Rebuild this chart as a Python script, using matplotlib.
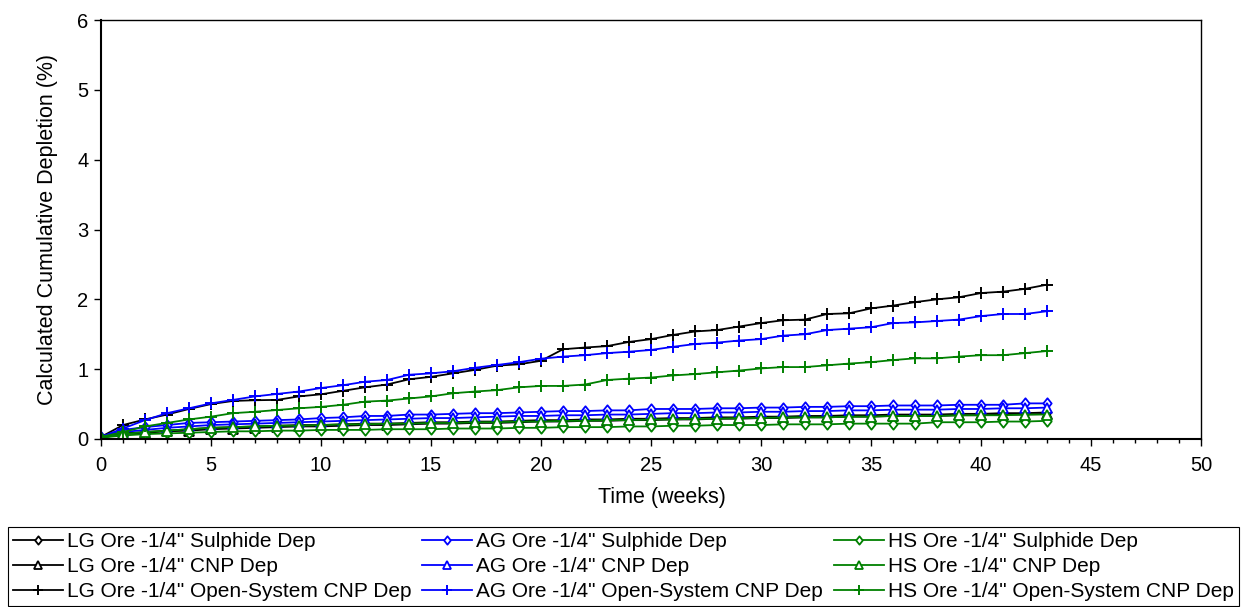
import matplotlib
matplotlib.use("Agg")
import matplotlib.pyplot as plt
import numpy as np
from matplotlib.ticker import MultipleLocator
from matplotlib.path import Path

plt.rcParams['font.family'] = ['Liberation Sans', 'DejaVu Sans']

weeks = list(range(0, 44))

lg_sulphide = [0.02, 0.08, 0.10, 0.12, 0.14, 0.16, 0.17, 0.18, 0.19, 0.20, 0.20, 0.21, 0.22, 0.22, 0.23,
               0.24, 0.24, 0.25, 0.25, 0.26, 0.27, 0.27, 0.28, 0.28, 0.29, 0.29, 0.30, 0.30, 0.31, 0.31,
               0.32, 0.32, 0.33, 0.33, 0.34, 0.34, 0.35, 0.35, 0.35, 0.36, 0.36, 0.37, 0.37, 0.38]
lg_cnp = [0.02, 0.07, 0.09, 0.11, 0.12, 0.14, 0.15, 0.16, 0.17, 0.18, 0.18, 0.19, 0.20, 0.20, 0.21,
          0.22, 0.22, 0.23, 0.23, 0.24, 0.25, 0.25, 0.26, 0.26, 0.27, 0.27, 0.28, 0.28, 0.29, 0.29,
          0.30, 0.30, 0.31, 0.31, 0.32, 0.32, 0.33, 0.33, 0.33, 0.34, 0.34, 0.35, 0.35, 0.36]
lg_open = [0.03, 0.20, 0.28, 0.35, 0.43, 0.50, 0.545, 0.555, 0.56, 0.61, 0.64, 0.69, 0.74, 0.78, 0.855,
           0.89, 0.94, 0.99, 1.05, 1.07, 1.12, 1.285, 1.31, 1.33, 1.39, 1.43, 1.49, 1.54, 1.56, 1.61,
           1.66, 1.70, 1.71, 1.79, 1.80, 1.87, 1.91, 1.96, 2.00, 2.03, 2.09, 2.11, 2.15, 2.21]

ag_sulphide = [0.03, 0.13, 0.17, 0.20, 0.23, 0.24, 0.25, 0.26, 0.27, 0.28, 0.30, 0.31, 0.33, 0.33, 0.35,
               0.35, 0.36, 0.37, 0.37, 0.38, 0.39, 0.40, 0.40, 0.41, 0.41, 0.43, 0.43, 0.43, 0.44, 0.44,
               0.45, 0.45, 0.46, 0.46, 0.47, 0.47, 0.48, 0.48, 0.48, 0.49, 0.49, 0.49, 0.51, 0.51]
ag_cnp = [0.03, 0.10, 0.13, 0.16, 0.18, 0.20, 0.21, 0.22, 0.23, 0.24, 0.25, 0.26, 0.27, 0.28, 0.29,
          0.30, 0.30, 0.31, 0.32, 0.33, 0.33, 0.34, 0.34, 0.35, 0.35, 0.36, 0.37, 0.37, 0.38, 0.38,
          0.39, 0.39, 0.40, 0.40, 0.41, 0.41, 0.42, 0.42, 0.42, 0.43, 0.43, 0.44, 0.44, 0.45]
ag_open = [0.03, 0.15, 0.27, 0.37, 0.44, 0.51, 0.56, 0.61, 0.645, 0.68, 0.73, 0.77, 0.82, 0.845, 0.92,
           0.94, 0.97, 1.02, 1.06, 1.10, 1.15, 1.18, 1.20, 1.23, 1.25, 1.275, 1.32, 1.36, 1.38, 1.41,
           1.43, 1.48, 1.50, 1.56, 1.58, 1.60, 1.66, 1.67, 1.69, 1.71, 1.76, 1.79, 1.79, 1.83]

hs_sulphide = [0.02, 0.05, 0.07, 0.08, 0.09, 0.10, 0.11, 0.11, 0.12, 0.12, 0.13, 0.13, 0.13, 0.14, 0.14,
               0.14, 0.15, 0.15, 0.15, 0.16, 0.16, 0.17, 0.17, 0.17, 0.18, 0.18, 0.19, 0.19, 0.20, 0.20,
               0.20, 0.21, 0.21, 0.21, 0.22, 0.22, 0.22, 0.22, 0.24, 0.24, 0.24, 0.25, 0.25, 0.26]
hs_cnp = [0.02, 0.07, 0.10, 0.12, 0.14, 0.16, 0.17, 0.18, 0.19, 0.19, 0.20, 0.21, 0.21, 0.22, 0.22,
          0.23, 0.23, 0.24, 0.24, 0.25, 0.25, 0.26, 0.26, 0.27, 0.27, 0.28, 0.28, 0.29, 0.29, 0.30,
          0.30, 0.31, 0.31, 0.31, 0.32, 0.32, 0.33, 0.33, 0.33, 0.34, 0.34, 0.34, 0.35, 0.35]
hs_open = [0.03, 0.10, 0.18, 0.23, 0.28, 0.32, 0.37, 0.39, 0.415, 0.44, 0.46, 0.49, 0.535, 0.55, 0.58,
           0.61, 0.655, 0.68, 0.70, 0.74, 0.76, 0.76, 0.78, 0.845, 0.865, 0.88, 0.91, 0.93, 0.955, 0.98,
           1.01, 1.03, 1.03, 1.055, 1.08, 1.10, 1.13, 1.155, 1.155, 1.18, 1.20, 1.20, 1.23, 1.26]

labels = ['LG Ore -1/4" Sulphide Dep', 'LG Ore -1/4" CNP Dep', 'LG Ore -1/4" Open-System CNP Dep',
          'AG Ore -1/4" Sulphide Dep', 'AG Ore -1/4" CNP Dep', 'AG Ore -1/4" Open-System CNP Dep',
          'HS Ore -1/4" Sulphide Dep', 'HS Ore -1/4" CNP Dep', 'HS Ore -1/4" Open-System CNP Dep']
series = [lg_sulphide, lg_cnp, lg_open, ag_sulphide, ag_cnp, ag_open, hs_sulphide, hs_cnp, hs_open]
colors = ['#000000'] * 3 + ['#0000FF'] * 3 + ['#008000'] * 3
markers = ['d', '^', '+'] * 3

diamond = Path([(0, 1), (0.8, 0), (0, -1), (-0.8, 0), (0, 1)],
               [Path.MOVETO, Path.LINETO, Path.LINETO, Path.LINETO, Path.CLOSEPOLY])

fig = plt.figure(figsize=(12.42, 6.07), dpi=100)
ax = fig.add_axes([101 / 1242, 1 - 439 / 607, 1100 / 1242, 419 / 607])

for vals, lab, c, m in zip(series, labels, colors, markers):
    if m == '+':
        ax.plot(weeks, vals, color=c, lw=1.3, marker='+', markersize=8.5, markeredgewidth=1.4, label=lab)
    elif m == 'd':
        ax.plot(weeks, vals, color=c, lw=1.3, marker=diamond, markersize=7.5, markerfacecolor='white',
                markeredgecolor=c, markeredgewidth=1.3, label=lab)
    else:
        ax.plot(weeks, vals, color=c, lw=1.3, marker='^', markersize=6.5, markerfacecolor='white',
                markeredgecolor=c, markeredgewidth=1.3, label=lab)

ax.set_xlim(0, 50)
ax.set_ylim(0, 6)
ax.xaxis.set_major_locator(MultipleLocator(5))
ax.xaxis.set_minor_locator(MultipleLocator(1))
ax.yaxis.set_major_locator(MultipleLocator(1))
ax.tick_params(axis='both', which='major', direction='out', length=5, width=1, labelsize=14.5)
ax.tick_params(axis='x', which='major', pad=7)
ax.tick_params(axis='y', which='major', pad=4)
ax.tick_params(axis='x', which='minor', direction='out', length=3, width=1)
for s in ['left', 'bottom']:
    ax.spines[s].set_linewidth(1.5)
for s in ['top', 'right']:
    ax.spines[s].set_linewidth(1.0)

ax.set_xlabel('Time (weeks)', fontsize=15.5, labelpad=9)
ax.xaxis.label.set_x((662 - 101) / 1100)
ax.set_ylabel('Calculated Cumulative Depletion (%)', fontsize=15.5, labelpad=14)

leg = fig.legend(loc='upper left', bbox_to_anchor=(8 / 1242, 1 - 527 / 607), ncol=3, fontsize=15,
                 frameon=True, fancybox=False, edgecolor='black', framealpha=1,
                 handlelength=2.4, handletextpad=0.2, columnspacing=0.5, labelspacing=0.28,
                 borderpad=0.25, borderaxespad=0, markerscale=0.8)
leg.get_frame().set_linewidth(0.8)

fig.savefig('out.png', dpi=100)
